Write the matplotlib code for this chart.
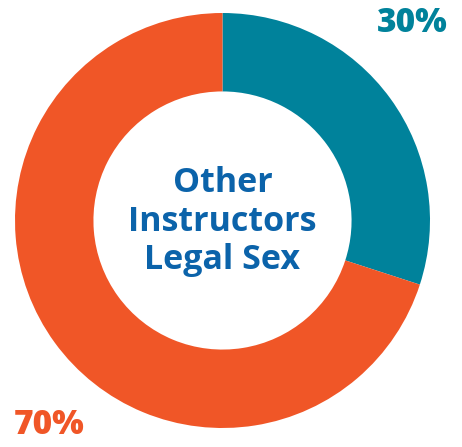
import matplotlib.pyplot as plt

# DATA
labels = ['Female', 'Male']
shares = [30, 70]
pct_labels = ['30%', '70%']
center_title = 'Other\nInstructors\nLegal Sex'

colors = ['#00829B', '#F05627']
text_blue = '#0B63AA'

# FIGURE
fig = plt.figure(figsize=(4.62, 4.47), dpi=100)
ax = fig.add_axes([0, 0, 1, 1])

ax.pie(
    shares,
    colors=colors,
    startangle=90,
    counterclock=False,
    radius=1,
    wedgeprops=dict(width=0.378, edgecolor='none'),
)

# pixel scale: radius ~207.5 px, centre at (222.5, 220.5) from top-left
ax.set_xlim(-222.5 / 207.5, (462 - 222.5) / 207.5)
ax.set_ylim(-(447 - 220.5) / 207.5, 220.5 / 207.5)
ax.set_aspect('auto')
ax.set_axis_off()

font = ['Open Sans', 'DejaVu Sans']
ax.text(0.916, 0.954, pct_labels[0], color=colors[0], fontsize=24,
        fontweight='heavy', family=font, ha='center', va='center')
ax.text(-0.836, -0.986, pct_labels[1], color=colors[1], fontsize=24,
        fontweight='heavy', family=font, ha='center', va='center')

ax.text(0, -0.005, center_title, color=text_blue, fontsize=24.5,
        fontweight='bold', family=font, ha='center', va='center',
        linespacing=1.17)

plt.savefig('out.png', dpi=100)
